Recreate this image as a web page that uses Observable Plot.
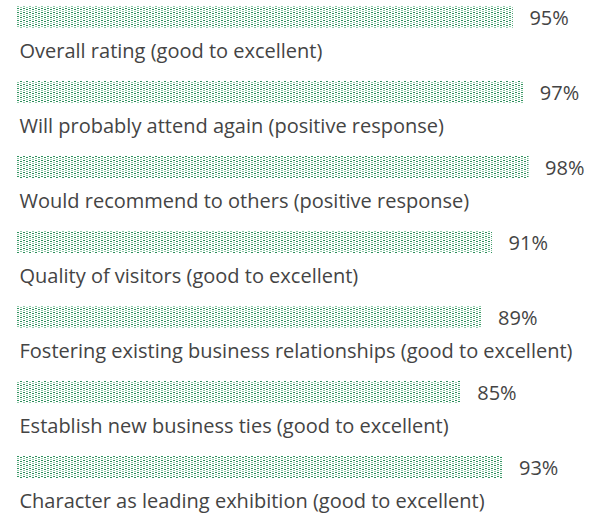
<!DOCTYPE html>
<html>
<head>
<meta charset="utf-8">
<script src="https://cdn.jsdelivr.net/npm/d3@7"></script>
<script src="https://cdn.jsdelivr.net/npm/@observablehq/plot@0.6"></script>
<style>
  html, body { margin: 0; padding: 0; background: #fff; }
  #chart svg { display: block; }
</style>
</head>
<body>
<div id="chart"></div>
<script>
const categories = [
  "Overall rating (good to excellent)",
  "Will probably attend again (positive response)",
  "Would recommend to others (positive response)",
  "Quality of visitors (good to excellent)",
  "Fostering existing business relationships (good to excellent)",
  "Establish new business ties (good to excellent)",
  "Character as leading exhibition (good to excellent)"
];
const values = [95, 97, 98, 91, 89, 85, 93];

const data = categories.map((c, i) => ({category: c, value: values[i]}));

const fontFamily = "'Open Sans', sans-serif";
const textColor = "#444444";

const svg = Plot.plot({
  width: 609,
  height: 517,
  marginTop: 0,
  marginBottom: 0,
  marginLeft: 0,
  marginRight: 0,
  style: {fontFamily, background: "#fff"},
  x: {domain: [0, 100], range: [17, 539], axis: null},
  y: {domain: categories, range: [5, 478.8], paddingInner: 0.708, paddingOuter: 0, axis: null},
  marks: [
    Plot.barX(data, {x: "value", y: "category", fill: "url(#dots)"}),
    Plot.text(data, {x: "value", y: "category", text: d => d.value + "%", textAnchor: "start", dx: 16, dy: 1, fontSize: 20, fill: textColor}),
    Plot.text(data, {x: 0, y: "category", text: "category", textAnchor: "start", dx: 2, dy: 34, fontSize: 20, fill: textColor})
  ]
});

const defs = d3.select(svg).insert("defs", ":first-child");
const pat = defs.append("pattern")
  .attr("id", "dots")
  .attr("patternUnits", "userSpaceOnUse")
  .attr("x", 17)
  .attr("width", 6)
  .attr("height", 4);
pat.append("rect").attr("width", 6).attr("height", 4).attr("fill", "#ffffff");
const dots = [
  [0, 0, "#2e8f5c"], [0, 2, "#8fcaa9"],
  [3, 1, "#2e8f5c"], [3, 3, "#8fcaa9"]
];
for (const [x, y, c] of dots) {
  pat.append("rect").attr("x", x).attr("y", y).attr("width", 2).attr("height", 1).attr("fill", c);
}

document.getElementById("chart").appendChild(svg);
</script>
</body>
</html>
